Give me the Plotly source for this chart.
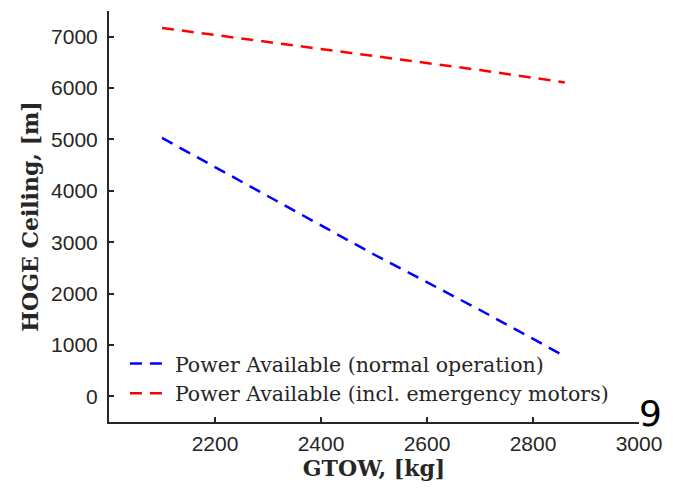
import plotly.graph_objects as go

gtow = [2100, 2300, 2500, 2700, 2860]
ceiling_normal = [5030, 3900, 2760, 1680, 780]
ceiling_emerg = [7170, 6900, 6620, 6350, 6110]

x_ticks = [2200, 2400, 2600, 2800, 3000]
y_ticks = [0, 1000, 2000, 3000, 4000, 5000, 6000, 7000]

fig = go.Figure()
fig.add_trace(go.Scatter(x=gtow, y=ceiling_normal, mode="lines",
                         name="Power Available (normal operation)",
                         line=dict(color="#0000ff", width=2.5, dash="12px,8px")))
fig.add_trace(go.Scatter(x=gtow, y=ceiling_emerg, mode="lines",
                         name="Power Available (incl. emergency motors)",
                         line=dict(color="#ff0000", width=2.5, dash="12px,8px")))

axis_common = dict(showgrid=False, zeroline=False, showline=True, linecolor="#262626",
                   linewidth=2, ticks="inside", ticklen=5, tickwidth=1.5, tickcolor="#262626",
                   tickfont=dict(family="Liberation Sans, Arial", size=21, color="#262626"),
                   mirror=False)

fig.update_layout(
    width=673, height=490,
    paper_bgcolor="white", plot_bgcolor="white",
    margin=dict(l=109, r=29, t=11, b=68),
    xaxis=dict(range=[2000, 3000], tickvals=x_ticks, ticklabelstandoff=2,
               title=dict(text="<b>GTOW, [kg]</b>", standoff=2,
                          font=dict(family="DejaVu Serif", size=22, color="#262626")),
               **axis_common),
    yaxis=dict(range=[-500, 7500], tickvals=y_ticks, ticklabelstandoff=5,
               title=dict(text="<b>HOGE Ceiling, [m]</b>", standoff=6,
                          font=dict(family="DejaVu Serif", size=22, color="#262626")),
               **axis_common),
    legend=dict(x=0.03, y=0.02, xanchor="left", yanchor="bottom",
                bgcolor="rgba(0,0,0,0)", borderwidth=0, tracegroupgap=0, itemwidth=40,
                font=dict(family="DejaVu Serif", size=20.5, color="#262626")),
    showlegend=True,
)

fig.add_annotation(text="9", x=1.0, y=0.0, xref="paper", yref="paper",
                   xanchor="left", yanchor="bottom", showarrow=False, xshift=-2, yshift=-14,
                   font=dict(family="DejaVu Sans", size=36, color="black"))

fig.write_html("out.html", config={"displayModeBar": False},
               post_script="document.body.style.margin='0';")
